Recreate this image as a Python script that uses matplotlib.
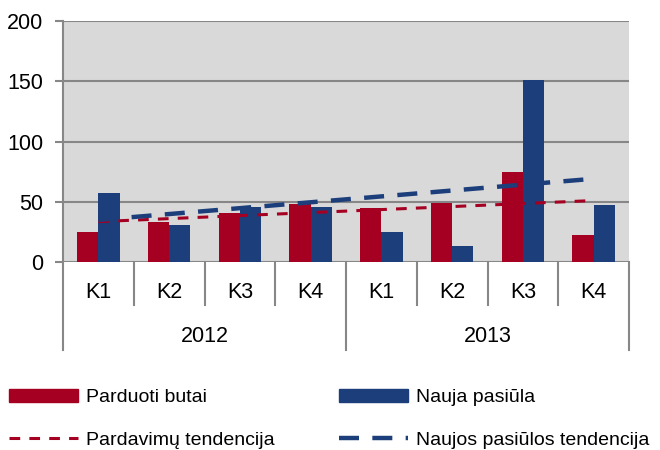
import numpy as np
import matplotlib
matplotlib.use('Agg')
from matplotlib import pyplot as plt
from matplotlib import font_manager
from matplotlib.patches import Patch
from matplotlib.lines import Line2D

names = {f.name for f in font_manager.fontManager.ttflist}
fam = 'Liberation Sans Narrow' if 'Liberation Sans Narrow' in names else 'Liberation Sans'
plt.rcParams['font.family'] = [fam, 'DejaVu Sans']

quarters = ['K1', 'K2', 'K3', 'K4', 'K1', 'K2', 'K3', 'K4']
years = ['2012', '2013']
sold = [25, 33, 41, 48, 45, 49, 75, 22]
offer = [57, 31, 46, 46, 25, 13, 151, 47]
yticks = [0, 50, 100, 150, 200]

red = '#A50021'
blue = '#1C3F7C'
grid = '#878787'

x = np.arange(len(quarters))
fig = plt.figure(figsize=(6.6, 4.5), dpi=100)
ax = fig.add_axes([63/660, 1-262/450, 566/660, 241/450])
ax.set_facecolor('#D9D9D9')

w = 0.3
ax.bar(x - w/2, sold, w, color=red, zorder=2)
ax.bar(x + w/2, offer, w, color=blue, zorder=2)

# linear trend lines
ps = np.polyfit(x, sold, 1)
po = np.polyfit(x, offer, 1)
ax.plot(x, np.polyval(ps, x), color=red, lw=2.2, dashes=(3.5, 3), zorder=3)
ax.plot(x, np.polyval(po, x), color=blue, lw=3.2, dashes=(4.5, 3), zorder=4)

ax.set_xlim(-0.5, 7.5)
ax.set_ylim(0, 200)
ax.set_yticks(yticks)
ax.yaxis.grid(True, color=grid, lw=1.5, zorder=1)
ax.set_axisbelow(True)
for s in ['top', 'right', 'bottom']:
    ax.spines[s].set_visible(False)
ax.spines['left'].set_color(grid)
ax.spines['left'].set_linewidth(1.5)
ax.tick_params(axis='y', length=6, width=1.5, color=grid, labelsize=15.5, pad=8)
ax.set_xticks([])

# multi-level category axis
tr = ax.get_xaxis_transform()
for i in range(len(quarters) + 1):
    b = i - 0.5
    low = -0.365 if i % 4 == 0 else -0.178
    ax.plot([b, b], [0, low], transform=tr, color=grid, lw=1.5, clip_on=False)
for i, q in enumerate(quarters):
    ax.text(i, -0.125, q, transform=tr, ha='center', va='center', fontsize=15.5)
for j, yr in enumerate(years):
    ax.text(j*4 + 1.5, -0.31, yr, transform=tr, ha='center', va='center', fontsize=15.5)

handles = [Patch(color=red), Line2D([], [], color=red, lw=2.2, dashes=(3.5, 3)),
           Patch(color=blue), Line2D([], [], color=blue, lw=3.2, dashes=(4.5, 3))]
labels = ['Parduoti butai', 'Pardavimų tendencija', 'Nauja pasiūla', 'Naujos pasiūlos tendencija']
fig.legend(handles, labels, ncol=2, loc='upper left', bbox_to_anchor=(0.002, 1-381/450),
           frameon=False, fontsize=14, handlelength=3.55, handleheight=0.7,
           handletextpad=0.4, columnspacing=3.3, labelspacing=1.3, borderaxespad=0)

fig.savefig('out.png', dpi=100)
